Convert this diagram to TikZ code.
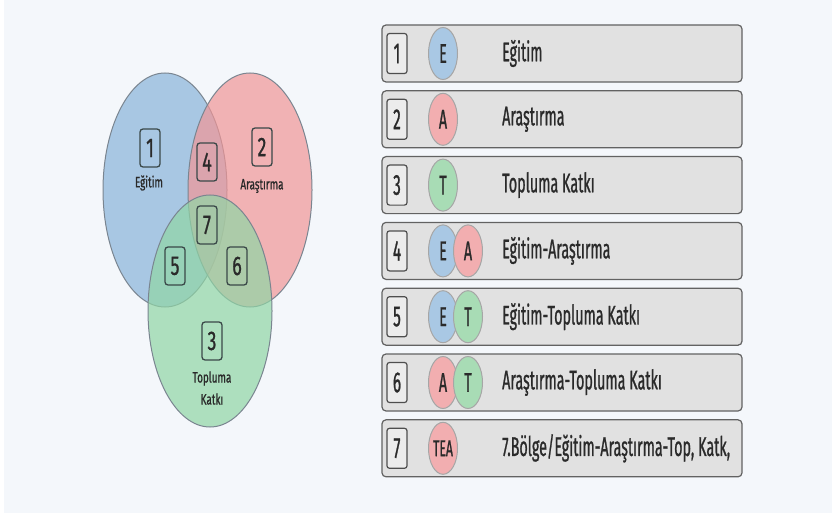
\documentclass[tikz,border=0pt]{standalone}
\usepackage{fontspec}
\setmainfont{Fira Sans}[FakeStretch=0.53, FakeBold=0.8]
\newfontfamily\vennfont{Fira Sans}[FakeStretch=0.66, FakeBold=0.8]
\usetikzlibrary{shapes.geometric}
\definecolor{bgc}{HTML}{F4F7FB}
\definecolor{cblue}{HTML}{89B4DA}
\definecolor{cred}{HTML}{F19697}
\definecolor{cgreen}{HTML}{90D6A5}
\definecolor{vedge}{HTML}{7A8590}
\definecolor{boxc}{HTML}{3A4848}
\definecolor{rowfill}{HTML}{E1E1E1}
\definecolor{rowdraw}{HTML}{626262}
\definecolor{numfill}{HTML}{ECECEC}
\definecolor{txt}{HTML}{2A2A2A}
\definecolor{lblue}{HTML}{A9C8E4}
\definecolor{lred}{HTML}{F2AEB0}
\definecolor{lgreen}{HTML}{A8DCB5}
\tikzset{
  venn/.style={ellipse, draw=vedge, line width=1pt, fill opacity=0.7, minimum width=124pt, minimum height=234pt, inner sep=0pt},
  vbox/.style={draw=boxc, line width=1.3pt, rounded corners=3pt, minimum width=20pt, minimum height=38pt, inner sep=0pt, text=txt, font=\vennfont\fontsize{27}{27}\selectfont},
  vlabel/.style={inner sep=0pt, text=txt, font=\vennfont\fontsize{15}{22}\selectfont},
  rowbox/.style={draw=rowdraw, fill=rowfill, line width=1.2pt, rounded corners=4pt, minimum width=360pt, minimum height=57pt, inner sep=0pt},
  numbox/.style={draw=rowdraw!80!black, fill=numfill, line width=1.2pt, rounded corners=2.5pt, minimum width=20pt, minimum height=40pt, inner sep=0pt, text=txt, font=\fontsize{29}{29}\selectfont},
  letter/.style={ellipse, draw=black!35, line width=1pt, minimum width=29pt, minimum height=52pt, inner sep=0pt, text=txt, font=\fontsize{27}{27}\selectfont},
  rowtext/.style={anchor=west, inner sep=0pt, text=txt, font=\fontsize{27}{27}\selectfont},
}
\newcommand\mkrow[2]{%
  \node[rowbox] (r#1) at (562,{53.5+65.8*(#1-1)}) {};
  \node[numbox] (n#1) at (397,{53.5+65.8*(#1-1)}) {#1};
  \node[rowtext] (t#1) at (502,{53.5+65.8*(#1-1)}) {#2};
}
\begin{document}
\begin{tikzpicture}[x=1pt,y=-1pt]
\fill[white] (0,0) rectangle (832,513);
\fill[bgc] (4,0) rectangle (832,513);
\useasboundingbox (0,0) rectangle (832,513);
% Venn
\node[venn, fill=cblue] (vE) at (165,190) {};
\node[venn, fill=cred] (vA) at (250,190) {};
\node[venn, fill=cgreen, minimum height=232pt] (vT) at (210,311) {};
\node[vbox] (b1) at (150,148) {1};
\node[vlabel] (l1) at (149,183) {Eğitim};
\node[vbox] (b4) at (207,162) {4};
\node[vbox] (b2) at (262,147) {2};
\node[vlabel] (l2) at (262,186) {Araştırma};
\node[vbox] (b7) at (207,225) {7};
\node[vbox] (b5) at (175,266) {5};
\node[vbox] (b6) at (237,266) {6};
\node[vbox] (b3) at (212,341) {3};
\node[vlabel, align=center] (l3) at (212,388) {Topluma\\Katkı};
% Table
\mkrow{1}{Eğitim}
\mkrow{2}{Araştırma}
\mkrow{3}{Topluma Katkı}
\mkrow{4}{Eğitim-Araştırma}
\mkrow{5}{Eğitim-Topluma Katkı}
\mkrow{6}{Araştırma-Topluma Katkı}
\mkrow{7}{7.Bölge/Eğitim-Araştırma-Top, Katk,}
\node[letter, fill=lblue] (e1) at (443,53.5) {E};
\node[letter, fill=lred] (e2) at (443,119.3) {A};
\node[letter, fill=lgreen] (e3) at (443,185.1) {T};
\node[letter, fill=lblue] (e4a) at (443,250.9) {E};
\node[letter, fill=lred] (e4b) at (468,250.9) {A};
\node[letter, fill=lblue] (e5a) at (443,316.7) {E};
\node[letter, fill=lgreen] (e5b) at (468,316.7) {T};
\node[letter, fill=lred] (e6a) at (443,382.5) {A};
\node[letter, fill=lgreen] (e6b) at (468,382.5) {T};
\node[letter, fill=lred, font=\fontsize{23}{23}\selectfont] (e7) at (443,448.3) {TEA};
\end{tikzpicture}
\end{document}
